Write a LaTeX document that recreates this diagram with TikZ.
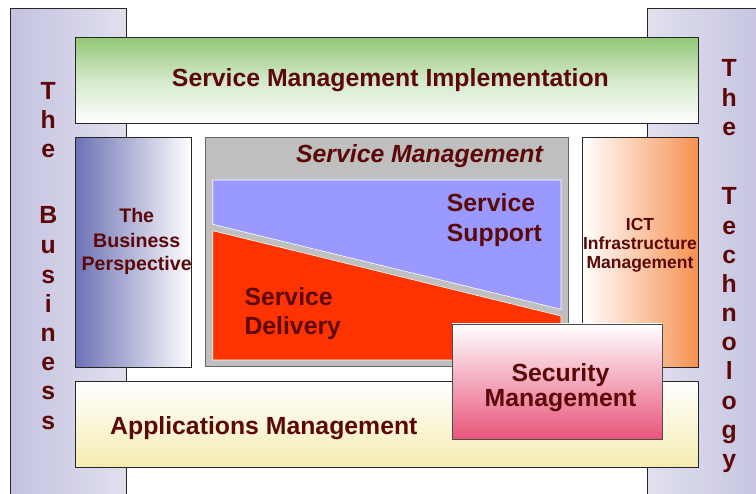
\documentclass[tikz,border=0pt]{standalone}
\usepackage{fontspec}
\setmainfont{Liberation Sans}
\usetikzlibrary{arrows}
\definecolor{txt}{RGB}{92,8,8}
\definecolor{barDark}{RGB}{196,194,224}
\definecolor{barLight}{RGB}{224,224,238}
\definecolor{smiGreen}{RGB}{146,200,120}
\definecolor{bpBlue}{RGB}{108,114,180}
\definecolor{ictOrange}{RGB}{247,145,80}
\definecolor{appYellow}{RGB}{244,236,176}
\definecolor{secPink}{RGB}{232,84,121}
\definecolor{supBlue}{RGB}{153,153,255}
\definecolor{delRed}{RGB}{255,51,0}

\begin{document}
\begin{tikzpicture}[x=1pt,y=-1pt,
  frame/.style={draw=black!85,line width=0.7pt},
  big/.style={text=txt,font=\fontsize{24.8}{29}\selectfont\bfseries,inner sep=0pt},
  mid/.style={text=txt,font=\fontsize{19.6}{23}\selectfont\bfseries,inner sep=0pt},
  small/.style={text=txt,font=\fontsize{17.5}{20}\selectfont\bfseries,inner sep=0pt}]

\useasboundingbox (0,0) rectangle (756,494);
\clip (0,0) rectangle (756,494);

% side bars
\draw[frame,left color=barDark,right color=barLight] (10.5,8.5) rectangle (126.3,500);
\draw[frame,left color=barLight,right color=barDark] (647.3,8.7) rectangle (770,500);

% top and bottom bands
\draw[frame,top color=smiGreen,bottom color=white,middle color=white!60!smiGreen] (75.3,37.3) rectangle (698.3,123.3);
\draw[frame,top color=white,bottom color=appYellow] (75.3,381.7) rectangle (698.3,467.3);

% middle row
\draw[frame,left color=bpBlue,right color=white] (75.3,137.3) rectangle (191.7,367.3);
\draw[frame,left color=white,right color=ictOrange] (582.3,137.3) rectangle (698.3,367.3);
\draw[draw=black!60,line width=0.7pt,fill=black!25] (205.3,137.3) rectangle (568,366.7);

\coordinate (s0) at (212.7,180);
\coordinate (s1) at (561,180);
\coordinate (s2) at (561,309.3);
\coordinate (s3) at (212.7,224.3);
\coordinate (d0) at (212.7,230.7);
\coordinate (d1) at (561,316);
\coordinate (d2) at (561,360);
\coordinate (d3) at (212.7,360);
\draw[draw=white,line width=0.6pt,fill=supBlue] (s0)--(s1)--(s2)--(s3)--cycle;
\draw[draw=white,line width=0.6pt,fill=delRed] (d0)--(d1)--(d2)--(d3)--cycle;

% security on top
\draw[draw=black!70,line width=0.7pt,top color=white,bottom color=secPink] (452,324) rectangle (662.7,439);

% labels
\node[big,anchor=base] (smi) at (390.4,87) {Service Management Implementation};
\node[big,anchor=base] (sm) at (419.5,162.3) {\itshape Service Management};
\node[big,anchor=base west] (sup1) at (446.7,211.7) {Service};
\node[big,anchor=base west] (sup2) at (446.7,241.7) {Support};
\node[big,anchor=base west] (del1) at (244.3,305.7) {Service};
\node[big,anchor=base west] (del2) at (244.3,335) {Delivery};
\node[mid,anchor=base] (bp1) at (136.7,223) {The};
\node[mid,anchor=base] (bp2) at (136.7,247.2) {Business};
\node[mid,anchor=base] (bp3) at (136.7,270.5) {Perspective};
\node[small,anchor=base] (ict1) at (640,231) {ICT};
\node[small,anchor=base] (ict2) at (640,250) {Infrastructure};
\node[small,anchor=base] (ict3) at (640,269) {Management};
\node[big,anchor=base] (sec1) at (560.5,381.7) {Security};
\node[big,anchor=base] (sec2) at (560.5,406.7) {Management};
\node[big,anchor=base west] (app) at (110,435) {Applications Management};

% vertical words
\foreach \l/\y [count=\i] in {T/99.3,h/128.3,e/157.3,B/224,u/254,s/283.3,i/312.3,n/341.7,e/371,s/400,s/429.3}
{
\node[big,anchor=base] (bus\i) at (48.3,\y) {\l};
}
\foreach \l/\y [count=\i] in {T/76.7,h/106.7,e/136,T/205,e/234.3,c/263.3,h/292.3,n/321.7,o/351,l/380,o/409.3,g/438.3,y/467.7}
{
\node[big,anchor=base] (tec\i) at (729.3,\y) {\l};
}
\end{tikzpicture}
\end{document}
